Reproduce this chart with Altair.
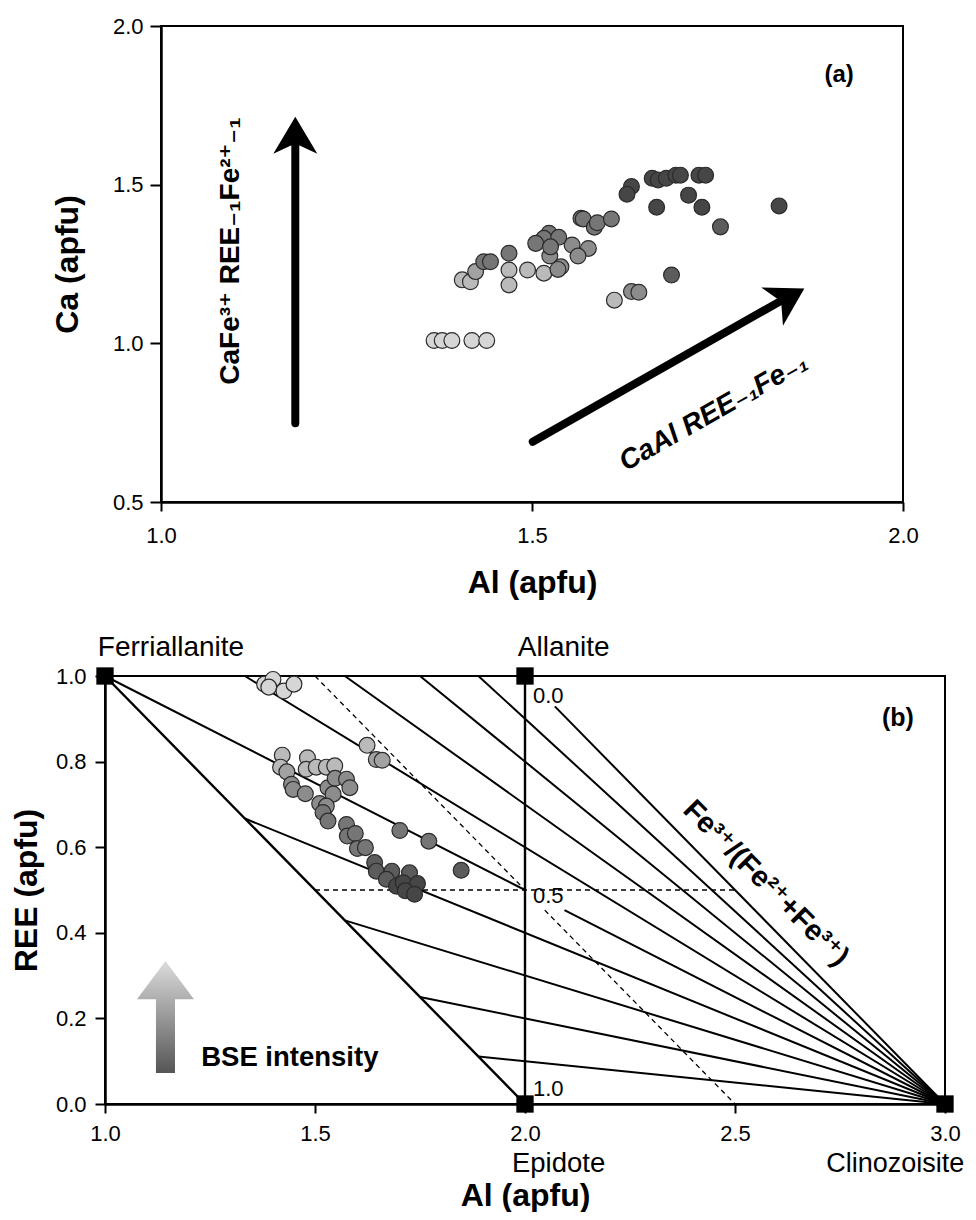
import altair as alt
import pandas as pd

FONT = "Liberation Sans, Arial, DejaVu Sans"

# ---------------- shared grey levels (BSE intensity) ----------------
SHADE_LEVELS = [1, 2, 3, 4, 5, 6, 7]
SHADE_COLORS = ["#d6d6d6", "#bababa", "#a2a2a2", "#8c8c8c", "#767676", "#5c5c5c", "#464646"]

# ---------------- panel (a): Ca vs Al ----------------
A_AL = [1.368, 1.379, 1.392, 1.419, 1.439,
        1.406, 1.417, 1.469, 1.469, 1.494, 1.516, 1.611, 1.424,
        1.554, 1.576, 1.562, 1.524, 1.539, 1.535, 1.634, 1.644,
        1.566, 1.569, 1.584, 1.588, 1.607, 1.523, 1.516, 1.536, 1.505, 1.525, 1.435, 1.444, 1.469, 1.754,
        1.688, 1.634, 1.628, 1.711, 1.668, 1.729, 1.833,
        1.662, 1.670, 1.681, 1.694, 1.700, 1.725, 1.734]
A_CA = [1.009, 1.009, 1.009, 1.009, 1.009,
        1.200, 1.194, 1.231, 1.184, 1.231, 1.221, 1.136, 1.226,
        1.310, 1.299, 1.275, 1.275, 1.241, 1.233, 1.163, 1.161,
        1.394, 1.392, 1.366, 1.380, 1.392, 1.347, 1.331, 1.334, 1.315, 1.304, 1.257, 1.257, 1.284, 1.367,
        1.215, 1.494, 1.470, 1.467, 1.429, 1.429, 1.433,
        1.520, 1.515, 1.520, 1.530, 1.530, 1.530, 1.530]
A_SHADE = [1, 1, 1, 1, 1,
           2, 2, 2, 2, 2, 2, 2, 3,
           4, 4, 4, 4, 4, 4, 4, 4,
           5, 5, 5, 5, 5, 5, 5, 5, 5, 5, 5, 5, 5, 6,
           6, 7, 7, 7, 7, 7, 7,
           7, 7, 7, 7, 7, 7, 7]

# arrows in panel (a): shaft start / end, head tip and head angle
A_ARROW_AL0 = [1.181, 1.501]
A_ARROW_CA0 = [0.748, 0.690]
A_ARROW_AL1 = [1.181, 1.840]
A_ARROW_CA1 = [1.660, 1.140]
A_TIP_AL = [1.181, 1.867]
A_TIP_CA = [1.714, 1.173]
A_TIP_ANGLE = [0, 60.5]

# ---------------- panel (b): REE vs Al ----------------
B_AL = [1.380, 1.400, 1.390, 1.426, 1.450,
        1.624, 1.422, 1.418, 1.482, 1.479, 1.503, 1.527, 1.547,
        1.646, 1.660, 1.433,
        1.444, 1.448, 1.477, 1.531, 1.548, 1.575, 1.583, 1.543, 1.511, 1.527,
        1.519, 1.531, 1.575, 1.577, 1.596, 1.601, 1.620, 1.702, 1.771,
        1.848, 1.642, 1.646, 1.683, 1.670, 1.725,
        1.694, 1.710, 1.744, 1.715, 1.737]
B_REE = [0.981, 0.992, 0.974, 0.965, 0.981,
         0.838, 0.815, 0.787, 0.809, 0.782, 0.787, 0.787, 0.790,
         0.805, 0.803, 0.776,
         0.747, 0.735, 0.725, 0.739, 0.761, 0.759, 0.739, 0.724, 0.702, 0.696,
         0.681, 0.661, 0.653, 0.626, 0.632, 0.597, 0.599, 0.639, 0.614,
         0.546, 0.564, 0.544, 0.544, 0.525, 0.540,
         0.509, 0.517, 0.515, 0.498, 0.490]
B_SHADE = [1, 1, 1, 1, 1,
           2, 2, 2, 2, 2, 2, 2, 2,
           3, 3, 3,
           4, 4, 4, 4, 4, 4, 4, 4, 4, 4,
           5, 5, 5, 5, 5, 5, 5, 5, 5,
           6, 6, 6, 6, 6, 6,
           7, 7, 7, 7, 7]

# Fe3+/(Fe2+ + Fe3+) isolines (all end at clinozoisite)
FAN_AL0 = [2.071, 1.889, 1.750, 1.571, 1.333, 1.000, 2.094, 1.333, 1.571, 1.750, 1.889]
FAN_REE0 = [0.929, 1.000, 1.000, 1.000, 1.000, 1.000, 0.453, 0.667, 0.429, 0.250, 0.111]
FAN_AL1 = [3.0, 3.0, 3.0, 3.0, 3.0, 2.0, 3.0, 3.0, 3.0, 3.0, 3.0]
FAN_REE1 = [0.0, 0.0, 0.0, 0.0, 0.0, 0.5, 0.0, 0.0, 0.0, 0.0, 0.0]
# ferriallanite-epidote join and allanite-epidote join
EDGE_AL0 = [1.0, 2.0]
EDGE_REE0 = [1.0, 0.0]
EDGE_AL1 = [2.0, 2.0]
EDGE_REE1 = [0.0, 1.0]
# dashed guides
DASH_AL0 = [1.5, 1.5, 2.047]
DASH_REE0 = [0.5, 1.0, 0.453]
DASH_AL1 = [2.5, 2.0, 2.5]
DASH_REE1 = [0.5, 0.5, 0.0]
# end members
EM_AL = [1.0, 2.0, 2.0, 3.0]
EM_REE = [1.0, 1.0, 0.0, 0.0]

HEAD = "M0,0 L1,1.68 L0,1.21 L-1,1.68 Z"
BLOCK = "M0,-1 L0.509,-0.321 L0.17,-0.321 L0.17,1 L-0.17,1 L-0.17,-0.321 L-0.509,-0.321 Z"


def axis(title, values, tick, lpad, tpad):
    return alt.Axis(title=title, values=values, format=".1f", grid=False,
                    tickSize=tick, tickWidth=2, tickColor="black",
                    domainWidth=2.5, domainColor="black",
                    labelFontSize=22, labelColor="black", labelPadding=lpad,
                    labelFlush=False, labelOverlap=False, labelFont=FONT,
                    titleFontSize=32, titleFontWeight="bold", titleColor="black",
                    titlePadding=tpad, titleFont=FONT)


AX_A_X = axis("Al (apfu)", [1.0, 1.5, 2.0], 9, 14, 21)
AX_A_Y = axis("Ca (apfu)", [0.5, 1.0, 1.5, 2.0], 11, 7, 28)
AX_B_X = axis("Al (apfu)", [1.0, 1.5, 2.0, 2.5, 3.0], 9, 10, 36)
AX_B_Y = axis("REE (apfu)", [0.0, 0.2, 0.4, 0.6, 0.8, 1.0], 10, 9, 12)

SC_AX = alt.Scale(domain=[1, 2], nice=False, zero=False)
SC_AY = alt.Scale(domain=[0.5, 2], nice=False, zero=False)
SC_BX = alt.Scale(domain=[1, 3], nice=False, zero=False)
SC_BY = alt.Scale(domain=[0, 1], nice=False, zero=False)
SC_SHADE = alt.Scale(domain=SHADE_LEVELS, range=SHADE_COLORS)


def xa(f):
    return alt.X(f"{f}:Q", scale=SC_AX, axis=AX_A_X)


def ya(f):
    return alt.Y(f"{f}:Q", scale=SC_AY, axis=AX_A_Y)


def xb(f):
    return alt.X(f"{f}:Q", scale=SC_BX, axis=AX_B_X)


def yb(f):
    return alt.Y(f"{f}:Q", scale=SC_BY, axis=AX_B_Y)


def text_a(al, ca, txt, **kw):
    return alt.Chart(pd.DataFrame({"Al": [al], "Ca": [ca]})).mark_text(
        text=txt, font=FONT, color="black", **kw).encode(x=xa("Al"), y=ya("Ca"))


def text_b(al, ree, txt, **kw):
    return alt.Chart(pd.DataFrame({"Al": [al], "REE": [ree]})).mark_text(
        text=txt, font=FONT, color="black", **kw).encode(x=xb("Al"), y=yb("REE"))


def blank(w):
    # empty, invisible cell used only to shift a panel horizontally
    return alt.Chart(pd.DataFrame({"v": [0]})).mark_point(opacity=0).encode(
        x=alt.X("v:Q", axis=None), y=alt.Y("v:Q", axis=None)
    ).properties(width=w, height=1, view=alt.ViewBackground(stroke="transparent"))


# ---------------- build panel (a) ----------------
df_a = pd.DataFrame({"Al": A_AL, "Ca": A_CA, "shade": A_SHADE})
df_a_arrow = pd.DataFrame({"Al": A_ARROW_AL0, "Ca": A_ARROW_CA0, "Al2": A_ARROW_AL1, "Ca2": A_ARROW_CA1})
df_a_tip = pd.DataFrame({"Al": A_TIP_AL, "Ca": A_TIP_CA, "ang": A_TIP_ANGLE})

a_points = alt.Chart(df_a).mark_circle(size=250, opacity=1, stroke="#2b2b2b", strokeWidth=1.2).encode(
    x=xa("Al"), y=ya("Ca"),
    color=alt.Color("shade:O", scale=SC_SHADE, legend=None))
a_shaft = alt.Chart(df_a_arrow).mark_rule(strokeWidth=8, strokeCap="round", color="black").encode(
    x=xa("Al"), y=ya("Ca"), x2="Al2", y2="Ca2")
a_head = alt.Chart(df_a_tip).mark_point(shape=HEAD, filled=True, size=1936, color="black",
                                         opacity=1, strokeWidth=0).encode(
    x=xa("Al"), y=ya("Ca"), angle=alt.Angle("ang:Q", scale=None))

a_label_v = text_a(1.094, 1.291, "CaFe³⁺ REE₋₁Fe²⁺₋₁", fontSize=28, fontWeight="bold",
                   angle=270, align="center", baseline="middle")
a_label_d = text_a(1.745, 0.782, "CaAl REE₋₁Fe₋₁", fontSize=28, fontWeight="bold",
                   fontStyle="italic", angle=330.5, align="center", baseline="middle")
a_tag = text_a(1.914, 1.846, "(a)", fontSize=24, fontWeight="bold", align="center", baseline="middle")

chart_a = alt.layer(a_points, a_shaft, a_head, a_label_v, a_label_d, a_tag).properties(
    width=742, height=476)

# ---------------- build panel (b) ----------------
df_b = pd.DataFrame({"Al": B_AL, "REE": B_REE, "shade": B_SHADE})
df_fan = pd.DataFrame({"Al": FAN_AL0, "REE": FAN_REE0, "Al2": FAN_AL1, "REE2": FAN_REE1})
df_edge = pd.DataFrame({"Al": EDGE_AL0, "REE": EDGE_REE0, "Al2": EDGE_AL1, "REE2": EDGE_REE1})
df_dash = pd.DataFrame({"Al": DASH_AL0, "REE": DASH_REE0, "Al2": DASH_AL1, "REE2": DASH_REE1})
df_em = pd.DataFrame({"Al": EM_AL, "REE": EM_REE})

b_fan = alt.Chart(df_fan).mark_rule(strokeWidth=2, color="black").encode(
    x=xb("Al"), y=yb("REE"), x2="Al2", y2="REE2")
b_edge = alt.Chart(df_edge).mark_rule(strokeWidth=2.4, color="black").encode(
    x=xb("Al"), y=yb("REE"), x2="Al2", y2="REE2")
b_dash = alt.Chart(df_dash).mark_rule(strokeWidth=1.3, color="black", strokeDash=[5, 4]).encode(
    x=xb("Al"), y=yb("REE"), x2="Al2", y2="REE2")
b_points = alt.Chart(df_b).mark_circle(size=250, opacity=1, stroke="#2b2b2b", strokeWidth=1.2).encode(
    x=xb("Al"), y=yb("REE"),
    color=alt.Color("shade:O", scale=SC_SHADE, legend=None))
b_em = alt.Chart(df_em).mark_square(size=300, opacity=1, color="black").encode(
    x=xb("Al"), y=yb("REE"))

bse_grad = alt.LinearGradient(gradient="linear", x1=0, y1=1, x2=0, y2=0,
                              stops=[alt.GradientStop(color="#555555", offset=0),
                                     alt.GradientStop(color="#dcdcdc", offset=1)])
b_bse = alt.Chart(pd.DataFrame({"Al": [1.144], "REE": [0.203]})).mark_point(
    shape=BLOCK, filled=True, size=12544, fill=bse_grad, opacity=1, strokeWidth=0).encode(
    x=xb("Al"), y=yb("REE"))

b_texts = [
    text_b(0.983, 1.065, "Ferriallanite", fontSize=28, align="left", baseline="middle"),
    text_b(1.983, 1.065, "Allanite", fontSize=28, align="left", baseline="middle"),
    text_b(1.969, -0.140, "Epidote", fontSize=27.5, align="left", baseline="middle"),
    text_b(3.046, -0.140, "Clinozoisite", fontSize=27, align="right", baseline="middle"),
    text_b(2.019, 0.953, "0.0", fontSize=22, align="left", baseline="middle"),
    text_b(2.019, 0.486, "0.5", fontSize=22, align="left", baseline="middle"),
    text_b(2.019, 0.034, "1.0", fontSize=22, align="left", baseline="middle"),
    text_b(2.888, 0.902, "(b)", fontSize=25, fontWeight="bold", align="center", baseline="middle"),
    text_b(2.574, 0.516, "Fe³⁺/(Fe²⁺+Fe³⁺)", fontSize=29, fontWeight="bold", angle=45,
           align="center", baseline="middle"),
    text_b(1.229, 0.107, "BSE intensity", fontSize=27.5, fontWeight="bold", align="left", baseline="middle"),
]

chart_b = alt.layer(b_fan, b_dash, b_edge, b_points, b_em, b_bse, *b_texts).properties(
    width=840, height=428)

row_a = alt.hconcat(blank(45), chart_a, spacing=0)
row_b = alt.hconcat(blank(1), chart_b, spacing=0)

chart = alt.vconcat(row_a, row_b, spacing=34).properties(
    padding={"left": -8, "top": 6, "right": 0, "bottom": 0}
).configure(font=FONT).configure_view(stroke="black", strokeWidth=2)

chart.save("out.html", embed_options={"renderer": "svg", "actions": False})
